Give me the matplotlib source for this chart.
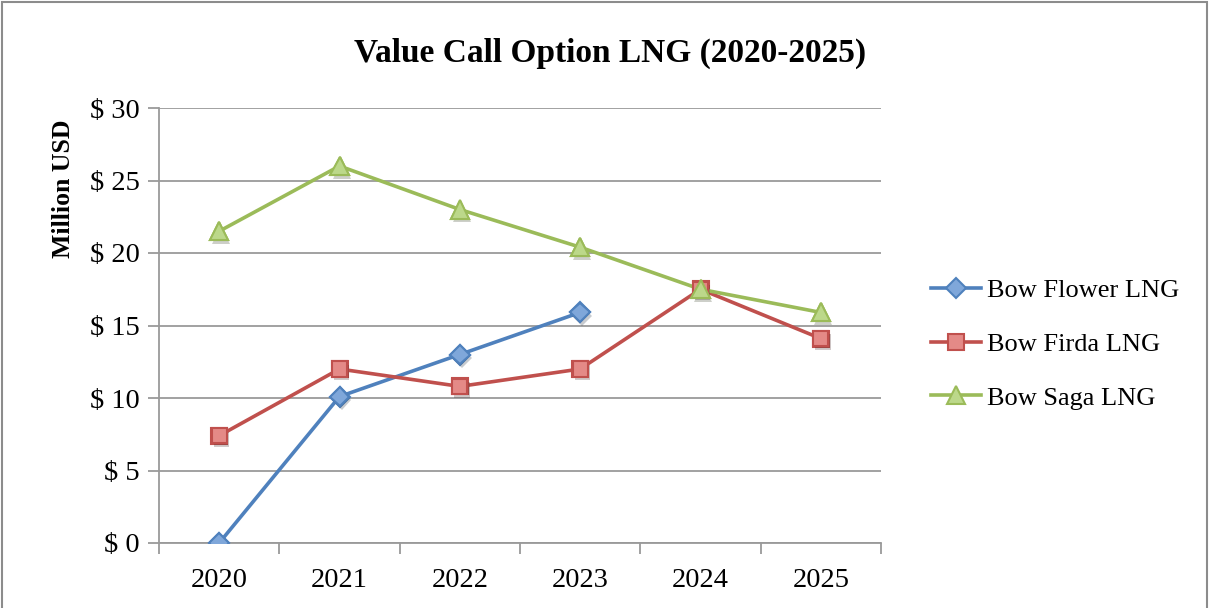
import matplotlib
matplotlib.use('Agg')
import matplotlib.pyplot as plt
import matplotlib.patheffects as pe
from matplotlib.patches import Rectangle
import numpy as np

plt.rcParams['font.family'] = ['Liberation Serif', 'DejaVu Serif']

years = ['2020', '2021', '2022', '2023', '2024', '2025']
flower = [0.0, 10.1, 13.0, 15.9]
firda = [7.4, 12.0, 10.8, 12.0, 17.5, 14.1]
saga = [21.5, 26.0, 23.0, 20.4, 17.5, 15.9]
yticks = [0, 5, 10, 15, 20, 25, 30]

series = [
    ('Bow Flower LNG', flower, '#4F81BD', '#7FA7DA', 'D', 10),
    ('Bow Firda LNG', firda, '#C0504D', '#E48A87', 's', 11),
    ('Bow Saga LNG', saga, '#9BBB59', '#BCD88A', '^', 13),
]

fig = plt.figure(figsize=(12.11, 6.08), dpi=100)
ax = fig.add_axes([159/1211, 1-543/608, (881-159)/1211, (543-108)/608])

x = np.arange(len(years))
for name, vals, col, light, mk, ms in series:
    xs = x[:len(vals)]
    ax.plot(xs, vals, color=col, lw=2.6, marker=mk, ms=ms, mfc=light,
            mec=col, mew=1.5, label=name, zorder=3)
    # marker shadows
    ax.plot(xs, vals, linestyle='none', marker=mk, ms=ms, mfc=light,
            mec=col, mew=1.5, zorder=4,
            path_effects=[pe.SimplePatchShadow(offset=(1.5, -2.5), alpha=0.25),
                          pe.Normal()])

ax.set_xlim(-0.5, len(years) - 0.5)
ax.set_ylim(0, 30)
ax.set_yticks(yticks)
ax.set_yticklabels(['$ %d' % v for v in yticks])
ax.set_xticks(x)
ax.set_xticklabels(years)
ax.set_xticks(np.arange(-0.5, len(years)), minor=True)
ax.tick_params(axis='x', which='major', length=0, pad=18, labelsize=20.5)
ax.tick_params(axis='x', which='minor', length=8, width=1.3, color='#9a9a9a',
               direction='out')
ax.tick_params(axis='y', length=8, width=1.3, color='#9a9a9a', pad=6,
               labelsize=20.5)
ax.yaxis.grid(True, color='#9a9a9a', lw=1.3)
ax.set_axisbelow(True)
for s in ['top', 'right']:
    ax.spines[s].set_visible(False)
for s in ['left', 'bottom']:
    ax.spines[s].set_color('#9a9a9a')
    ax.spines[s].set_linewidth(1.3)

fig.text(63/1211, 1-189/608, 'Million USD', rotation=90, ha='center',
         va='center', fontsize=18.5, fontweight='bold')
fig.text(610/1211, 1-53/608, 'Value Call Option LNG (2020-2025)',
         ha='center', va='center', fontsize=24, fontweight='bold')

ax.legend(loc='center left', bbox_to_anchor=(920/1211, 1-344/608),
          bbox_transform=fig.transFigure, frameon=False, fontsize=19,
          handlelength=1.9, handletextpad=0.25, labelspacing=1.15,
          borderaxespad=0)

fig.patches.append(Rectangle((2/1211, -0.02), 1205/1211, 1-2/608 + 0.02,
                             transform=fig.transFigure, fill=False,
                             ec='#8c8c8c', lw=1.5))

fig.savefig('out.png', dpi=100)
